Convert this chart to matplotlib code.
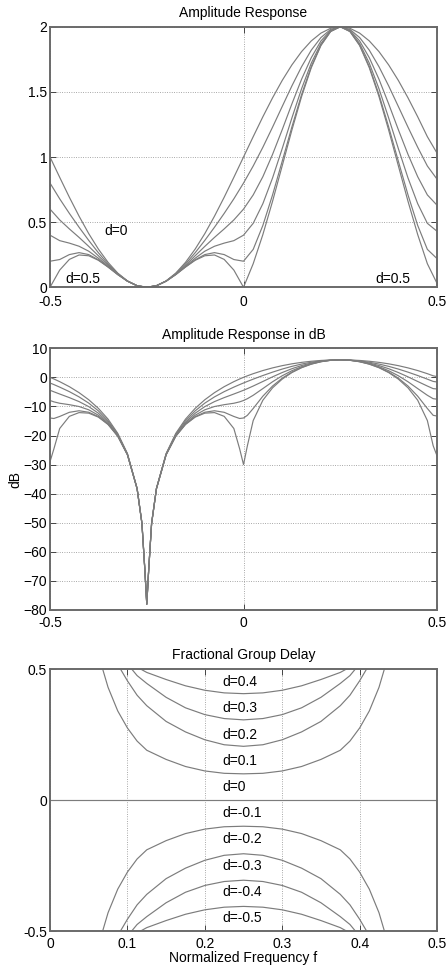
import matplotlib
matplotlib.use('Agg')
import matplotlib.pyplot as plt

plt.rcParams['font.family'] = ['Liberation Sans', 'DejaVu Sans']
plt.rcParams['font.size'] = 10

# ---- amplitude response (linear), one list per d = 0, 0.1, ..., 0.5
f_amp = [-0.5, -0.475, -0.45, -0.425, -0.4, -0.375, -0.35, -0.325, -0.3, -0.275,
         -0.25, -0.225, -0.2, -0.175, -0.15, -0.125, -0.1, -0.075, -0.05, -0.025,
         0.0, 0.025, 0.05, 0.075, 0.1, 0.125, 0.15, 0.175, 0.2, 0.225,
         0.25, 0.275, 0.3, 0.325, 0.35, 0.375, 0.4, 0.425, 0.45, 0.475, 0.5]
amp_d0 = [1.0, 0.844, 0.691, 0.546, 0.412, 0.293, 0.191, 0.109, 0.049, 0.012, 0.0,
          0.012, 0.049, 0.109, 0.191, 0.293, 0.412, 0.546, 0.691, 0.844, 1.0,
          1.156, 1.309, 1.454, 1.588, 1.707, 1.809, 1.891, 1.951, 1.988, 2.0,
          1.988, 1.951, 1.891, 1.809, 1.707, 1.588, 1.454, 1.309, 1.156, 1.03]
amp_d1 = [0.8, 0.679, 0.567, 0.461, 0.36, 0.265, 0.179, 0.105, 0.048, 0.012, 0.0,
          0.012, 0.048, 0.105, 0.179, 0.265, 0.36, 0.461, 0.567, 0.679, 0.8,
          0.931, 1.075, 1.229, 1.388, 1.546, 1.693, 1.82, 1.917, 1.979, 2.0,
          1.979, 1.917, 1.82, 1.693, 1.546, 1.388, 1.229, 1.075, 0.931, 0.83]
amp_d2 = [0.6, 0.517, 0.448, 0.383, 0.314, 0.242, 0.169, 0.102, 0.047, 0.012, 0.0,
          0.012, 0.047, 0.102, 0.169, 0.242, 0.314, 0.383, 0.448, 0.517, 0.6,
          0.709, 0.849, 1.02, 1.21, 1.408, 1.597, 1.762, 1.891, 1.972, 2.0,
          1.972, 1.891, 1.762, 1.597, 1.408, 1.21, 1.02, 0.849, 0.709, 0.63]
amp_d3 = [0.4, 0.358, 0.339, 0.315, 0.277, 0.223, 0.161, 0.099, 0.047, 0.012, 0.0,
          0.012, 0.047, 0.099, 0.161, 0.223, 0.277, 0.315, 0.339, 0.358, 0.4,
          0.491, 0.642, 0.839, 1.065, 1.3, 1.524, 1.72, 1.871, 1.967, 2.0,
          1.967, 1.871, 1.72, 1.524, 1.3, 1.065, 0.839, 0.642, 0.491, 0.43]
amp_d4 = [0.2, 0.213, 0.251, 0.266, 0.251, 0.211, 0.156, 0.098, 0.047, 0.012, 0.0,
          0.012, 0.047, 0.098, 0.156, 0.211, 0.251, 0.266, 0.251, 0.213, 0.2,
          0.291, 0.475, 0.709, 0.968, 1.231, 1.479, 1.694, 1.859, 1.964, 2.0,
          1.964, 1.859, 1.694, 1.479, 1.231, 0.968, 0.709, 0.475, 0.291, 0.22]
amp_d5 = [0.0, 0.132, 0.214, 0.248, 0.242, 0.207, 0.155, 0.097, 0.047, 0.012, 0.0,
          0.012, 0.047, 0.097, 0.155, 0.207, 0.242, 0.248, 0.214, 0.132, 0.0,
          0.181, 0.405, 0.66, 0.933, 1.207, 1.464, 1.685, 1.856, 1.963, 2.0,
          1.963, 1.856, 1.685, 1.464, 1.207, 0.933, 0.66, 0.405, 0.181, 0.03]

# ---- amplitude response in dB
f_db = [-0.5, -0.49, -0.475, -0.45, -0.425, -0.4, -0.375, -0.35, -0.325, -0.3, -0.275,
        -0.2625, -0.255, -0.25, -0.245, -0.2375,
        -0.225, -0.2, -0.175, -0.15, -0.125, -0.1, -0.075, -0.05, -0.025, -0.01,
        0.0, 0.01, 0.025, 0.05, 0.075, 0.1, 0.125, 0.15, 0.175, 0.2, 0.225,
        0.25, 0.275, 0.3, 0.325, 0.35, 0.375, 0.4, 0.425, 0.45, 0.475, 0.49, 0.5]
db_d0 = [0.0, -0.56, -1.48, -3.21, -5.26, -7.7, -10.67, -14.38, -19.25, -26.21, -38.19,
         -50.2, -66.1, -78.0, -66.1, -50.2,
         -38.19, -26.21, -19.25, -14.38, -10.67, -7.7, -5.26, -3.21, -1.48, -0.56,
         0.0, 0.53, 1.26, 2.34, 3.25, 4.02, 4.65, 5.15, 5.53, 5.81, 5.97,
         6.02, 5.97, 5.81, 5.53, 5.15, 4.65, 4.02, 3.25, 2.34, 1.26, 0.53, 0.25]
db_d1 = [-1.94, -2.49, -3.36, -4.92, -6.72, -8.86, -11.53, -14.96, -19.59, -26.36, -38.23,
         -50.2, -66.1, -78.0, -66.1, -50.2,
         -38.23, -26.36, -19.59, -14.96, -11.53, -8.86, -6.72, -4.92, -3.36, -2.49,
         -1.94, -1.4, -0.62, 0.63, 1.79, 2.85, 3.78, 4.57, 5.2, 5.65, 5.93,
         6.02, 5.93, 5.65, 5.2, 4.57, 3.78, 2.85, 1.79, 0.63, -0.62, -1.4, -1.6]
db_d2 = [-4.44, -4.97, -5.73, -6.97, -8.34, -10.06, -12.34, -15.47, -19.87, -26.48, -38.26,
         -50.2, -66.1, -78.0, -66.1, -50.2,
         -38.26, -26.48, -19.87, -15.47, -12.34, -10.06, -8.34, -6.97, -5.73, -4.97,
         -4.44, -3.88, -2.99, -1.42, 0.17, 1.66, 2.97, 4.06, 4.92, 5.53, 5.9,
         6.02, 5.9, 5.53, 4.92, 4.06, 2.97, 1.66, 0.17, -1.42, -2.99, -3.88, -4.0]
db_d3 = [-7.96, -8.43, -8.91, -9.4, -10.03, -11.16, -13.03, -15.87, -20.08, -26.57, -38.28,
         -50.2, -66.1, -78.0, -66.1, -50.2,
         -38.28, -26.57, -20.08, -15.87, -13.03, -11.16, -10.03, -9.4, -8.91, -8.43,
         -7.96, -7.34, -6.17, -3.86, -1.52, 0.55, 2.28, 3.66, 4.71, 5.44, 5.88,
         6.02, 5.88, 5.44, 4.71, 3.66, 2.28, 0.55, -1.52, -3.86, -6.17, -7.34, -7.5]
db_d4 = [-13.98, -14.15, -13.45, -12.02, -11.49, -12.0, -13.51, -16.13, -20.21, -26.62, -38.3,
         -50.2, -66.1, -78.0, -66.1, -50.2,
         -38.3, -26.62, -20.21, -16.13, -13.51, -12.0, -11.49, -12.02, -13.45, -14.15,
         -13.98, -13.06, -10.71, -6.47, -2.99, -0.28, 1.81, 3.4, 4.58, 5.39, 5.86,
         6.02, 5.86, 5.39, 4.58, 3.4, 1.81, -0.28, -2.99, -6.47, -10.71, -13.06, -13.3]
db_d5 = [-29.0, -24.6, -17.59, -13.41, -12.12, -12.31, -13.68, -16.22, -20.25, -26.64, -38.3,
         -50.2, -66.1, -78.0, -66.1, -50.2,
         -38.3, -26.64, -20.25, -16.22, -13.68, -12.31, -12.12, -13.41, -17.59, -24.6,
         -30.0, -23.51, -14.85, -7.86, -3.61, -0.6, 1.64, 3.31, 4.53, 5.37, 5.86,
         6.02, 5.86, 5.37, 4.53, 3.31, 1.64, -0.6, -3.61, -7.86, -14.85, -23.51, -27.0]

# ---- fractional group delay (each curve has its own frequency points)
gd_f1 = [0.068, 0.075, 0.0875, 0.1, 0.1125, 0.125, 0.15, 0.175, 0.2, 0.225, 0.25,
         0.275, 0.3, 0.325, 0.35, 0.375, 0.3875, 0.4, 0.4125, 0.425, 0.432]
gd_p1 = [0.5, 0.43, 0.34, 0.275, 0.225, 0.19, 0.155, 0.128, 0.111, 0.102, 0.1,
         0.102, 0.111, 0.128, 0.155, 0.19, 0.225, 0.275, 0.34, 0.43, 0.5]
gd_m1 = [-0.5, -0.43, -0.34, -0.275, -0.225, -0.19, -0.155, -0.128, -0.111, -0.102, -0.1,
         -0.102, -0.111, -0.128, -0.155, -0.19, -0.225, -0.275, -0.34, -0.43, -0.5]
gd_f2 = [0.091, 0.1, 0.1125, 0.125, 0.15, 0.175, 0.2, 0.225, 0.25,
         0.275, 0.3, 0.325, 0.35, 0.375, 0.3875, 0.4, 0.409]
gd_p2 = [0.5, 0.455, 0.4, 0.36, 0.3, 0.26, 0.23, 0.211, 0.205,
         0.211, 0.23, 0.26, 0.3, 0.36, 0.4, 0.455, 0.5]
gd_m2 = [-0.5, -0.455, -0.4, -0.36, -0.3, -0.26, -0.23, -0.211, -0.205,
         -0.211, -0.23, -0.26, -0.3, -0.36, -0.4, -0.455, -0.5]
gd_f3 = [0.1055, 0.1125, 0.125, 0.15, 0.175, 0.2, 0.225, 0.25,
         0.275, 0.3, 0.325, 0.35, 0.375, 0.3875, 0.3945]
gd_p3 = [0.5, 0.475, 0.445, 0.392, 0.352, 0.326, 0.311, 0.306,
         0.311, 0.326, 0.352, 0.392, 0.445, 0.475, 0.5]
gd_m3 = [-0.5, -0.475, -0.445, -0.392, -0.352, -0.326, -0.311, -0.306,
         -0.311, -0.326, -0.352, -0.392, -0.445, -0.475, -0.5]
gd_f4 = [0.117, 0.125, 0.15, 0.175, 0.2, 0.225, 0.25, 0.275, 0.3, 0.325, 0.35, 0.375, 0.383]
gd_p4 = [0.5, 0.487, 0.46, 0.436, 0.419, 0.409, 0.406, 0.409, 0.419, 0.436, 0.46, 0.487, 0.5]
gd_m4 = [-0.5, -0.487, -0.46, -0.436, -0.419, -0.409, -0.406, -0.409, -0.419, -0.436, -0.46, -0.487, -0.5]
gd_f0 = [0.0, 0.5]
gd_z0 = [0.0, 0.0]

gd_labels = ['d=0.4', 'd=0.3', 'd=0.2', 'd=0.1', 'd=0',
             'd=-0.1', 'd=-0.2', 'd=-0.3', 'd=-0.4', 'd=-0.5']
gd_label_y = [0.45, 0.35, 0.25, 0.15, 0.05, -0.05, -0.15, -0.25, -0.35, -0.45]

line_col = '#7c7c7c'
lw = 0.85

fig = plt.figure(figsize=(4.47, 9.65), dpi=100)


def style(ax, xpad=4.5):
    ax.tick_params(direction='in', top=True, right=True, length=4, width=0.7,
                   color='#444444', labelcolor='black', pad=2, labelsize=10)
    ax.tick_params(axis='x', pad=xpad)
    for s in ax.spines.values():
        s.set_color('#6a6a6a')
        s.set_linewidth(1.4)
    ax.grid(True, linestyle=(0, (1, 1.8)), color='#8c8c8c', linewidth=0.6)
    ax.set_axisbelow(True)


# panel 1
ax1 = fig.add_axes([0.1119, 0.7023, 0.8658, 0.2700])
for a in (amp_d0, amp_d1, amp_d2, amp_d3, amp_d4, amp_d5):
    ax1.plot(f_amp, a, color=line_col, lw=lw)
ax1.set_xlim(-0.5, 0.5)
ax1.set_ylim(0, 2)
ax1.set_xticks([-0.5, 0, 0.5])
ax1.set_xticklabels(['-0.5', '0', '0.5'])
ax1.set_yticks([0, 0.5, 1, 1.5, 2])
ax1.set_yticklabels(['0', '0.5', '1', '1.5', '2'])
style(ax1, xpad=5.6)
ax1.set_title('Amplitude Response', pad=7, fontsize=10)
ax1.text(-0.36, 0.43, 'd=0', va='center', ha='left')
ax1.text(-0.461, 0.06, 'd=0.5', va='center', ha='left')
ax1.text(0.34, 0.06, 'd=0.5', va='center', ha='left')

# panel 2
ax2 = fig.add_axes([0.1119, 0.3679, 0.8658, 0.2712])
for a in (db_d0, db_d1, db_d2, db_d3, db_d4, db_d5):
    ax2.plot(f_db, a, color=line_col, lw=lw)
ax2.set_xlim(-0.5, 0.5)
ax2.set_ylim(-80, 10)
ax2.set_xticks([-0.5, 0, 0.5])
ax2.set_xticklabels(['-0.5', '0', '0.5'])
ax2.set_yticks(range(-80, 11, 10))
style(ax2)
ax2.set_title('Amplitude Response in dB', pad=7, fontsize=10)
ax2.set_ylabel('dB', labelpad=1)

# panel 3
ax3 = fig.add_axes([0.1119, 0.0352, 0.8658, 0.2715])
ax3.plot(gd_f0, gd_z0, color=line_col, lw=lw)
for fx, p, m in ((gd_f1, gd_p1, gd_m1), (gd_f2, gd_p2, gd_m2),
                 (gd_f3, gd_p3, gd_m3), (gd_f4, gd_p4, gd_m4)):
    ax3.plot(fx, p, color=line_col, lw=lw)
    ax3.plot(fx, m, color=line_col, lw=lw)
ax3.set_xlim(0, 0.5)
ax3.set_ylim(-0.5, 0.5)
ax3.set_xticks([0, 0.1, 0.2, 0.3, 0.4, 0.5])
ax3.set_xticklabels(['0', '0.1', '0.2', '0.3', '0.4', '0.5'])
ax3.set_yticks([-0.5, 0, 0.5])
ax3.set_yticklabels(['-0.5', '0', '0.5'])
style(ax3)
ax3.grid(False, axis='y')
for lab, yy in zip(gd_labels, gd_label_y):
    ax3.text(0.223, yy, lab, va='center', ha='left')
ax3.set_title('Fractional Group Delay', pad=7, fontsize=10)
ax3.set_xlabel('Normalized Frequency f', labelpad=0)

fig.savefig('out.png', dpi=100)
